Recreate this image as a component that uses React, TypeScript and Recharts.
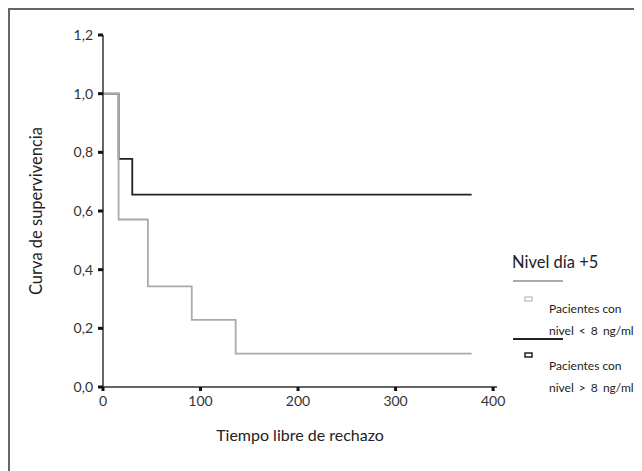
import React from "react";
import {
  LineChart,
  Line,
  XAxis,
  YAxis,
  Legend,
} from "recharts";

// Kaplan-Meier steps
const highTimes = [0, 16, 30, 378];
const highSurv = [1, 0.778, 0.656, 0.656];
const lowTimes = [0, 16, 46, 91, 136, 378];
const lowSurv = [1, 0.571, 0.343, 0.229, 0.114, 0.114];

const xTicks = [0, 100, 200, 300, 400];
const yTicks = [0, 0.2, 0.4, 0.6, 0.8, 1.0, 1.2];

const legendTitle = "Nivel día +5";
const lowLabel = ["Pacientes con", "nivel < 8 ng/ml"];
const highLabel = ["Pacientes con", "nivel > 8 ng/ml"];

const FONT = "Lato, 'Open Sans', sans-serif";
const GRAY = "#aaaaaa";
const DARK = "#222222";

const highData = highTimes.map((t, i) => ({ t, s: highSurv[i] }));
const lowData = lowTimes.map((t, i) => ({ t, s: lowSurv[i] }));

const fmt = (v: number) => v.toFixed(1).replace(".", ",");

function LegendBox() {
  return (
    <svg width={140} height={155} style={{ fontFamily: FONT }}>
      <text x={10} y={18} fontSize={16.5} fill="#222">
        {legendTitle}
      </text>
      <line x1={11} x2={61} y1={31} y2={31} stroke={GRAY} strokeWidth={2} />
      <rect x={23} y={47} width={7} height={4} fill="#fff" stroke={GRAY} strokeWidth={1} />
      <text x={47} y={63} fontSize={12} fill="#222">
        {lowLabel[0]}
      </text>
      <text x={47} y={85} fontSize={12} fill="#222" wordSpacing={2}>
        {lowLabel[1]}
      </text>
      <line x1={11} x2={61} y1={89} y2={89} stroke={DARK} strokeWidth={2} />
      <rect x={23} y={103} width={7} height={4} fill="#fff" stroke={DARK} strokeWidth={1.5} />
      <text x={47} y={120} fontSize={12} fill="#222">
        {highLabel[0]}
      </text>
      <text x={47} y={142} fontSize={12} fill="#222" wordSpacing={2}>
        {highLabel[1]}
      </text>
    </svg>
  );
}

const YTitle = (props: any) => {
  const { viewBox } = props;
  const cx = 32;
  const cy = viewBox.y + viewBox.height / 2;
  return (
    <text
      x={cx}
      y={cy}
      transform={`rotate(-90, ${cx}, ${cy})`}
      textAnchor="middle"
      fontSize={16.5}
      fontFamily={FONT}
      fill="#222"
    >
      Curva de supervivencia
    </text>
  );
};

export default function App() {
  return (
    <div
      style={{
        width: 634,
        height: 463,
        borderLeft: "2px solid #666",
        borderTop: "2px solid #666",
        boxSizing: "border-box",
        overflow: "hidden",
        background: "#fff",
      }}
    >
      <LineChart
        width={632}
        height={461}
        margin={{ top: 25, right: 145, left: 0, bottom: 24 }}
      >
        <XAxis
          dataKey="t"
          type="number"
          domain={[0, 404]}
          ticks={xTicks}
          allowDataOverflow
          height={60}
          stroke="#333"
          strokeWidth={1.5}
          tickLine={{ stroke: "#111", strokeWidth: 3 }}
          tickSize={4}
          tickMargin={5}
          tick={{ fontSize: 14, fill: "#333", fontFamily: FONT }}
          label={{
            value: "Tiempo libre de rechazo",
            position: "insideBottom",
            offset: 6,
            fontSize: 16,
            fill: "#222",
            fontFamily: FONT,
          }}
        />
        <XAxis
          xAxisId="top"
          orientation="top"
          type="number"
          domain={[0, 404]}
          height={0}
          stroke="#333"
          strokeWidth={1.5}
          tick={false}
          tickLine={false}
        />
        <YAxis
          type="number"
          domain={[0, 1.2]}
          ticks={yTicks}
          width={93}
          stroke="#333"
          strokeWidth={1.5}
          tickLine={{ stroke: "#111", strokeWidth: 3 }}
          tickSize={5}
          tickMargin={5}
          tickFormatter={fmt}
          tick={{ fontSize: 14, fill: "#333", fontFamily: FONT }}
          label={<YTitle />}
        />
        <YAxis
          yAxisId="right"
          orientation="right"
          type="number"
          domain={[0, 1.2]}
          width={0}
          stroke="#333"
          strokeWidth={1.5}
          tick={false}
          tickLine={false}
        />
        <Line
          data={highData}
          dataKey="s"
          type="stepAfter"
          stroke={DARK}
          strokeWidth={1.8}
          dot={false}
          isAnimationActive={false}
        />
        <Line
          data={lowData}
          dataKey="s"
          type="stepAfter"
          stroke={GRAY}
          strokeWidth={1.8}
          dot={false}
          isAnimationActive={false}
        />
        <Legend
          layout="vertical"
          align="center"
          verticalAlign="middle"
          content={() => <LegendBox />}
          wrapperStyle={{ position: "absolute", left: 492, top: 240, width: 140 }}
        />
      </LineChart>
    </div>
  );
}
